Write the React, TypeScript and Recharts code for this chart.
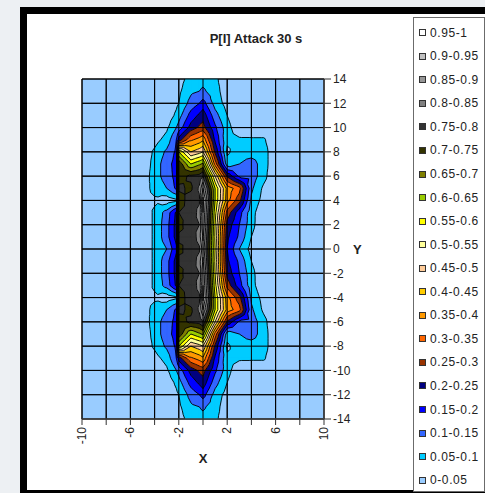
import * as Recharts from 'recharts'

const { ComposedChart, XAxis, YAxis, CartesianGrid, ReferenceLine, Customized } = Recharts
const RC: any = Recharts

// grid nodes of the surface (x columns, y rows from top to bottom)
const xNodes = [-6, -5, -4, -3, -2.2, -2, -1, -0.3, 0, 1, 2, 3, 4, 5, 6]
const yNodes = [14, 13, 12, 11, 10, 9, 8, 7, 6, 5, 4, 3, 2, 1, 0, -1, -2, -3, -4, -5, -6, -7, -8, -9, -10, -11, -12, -13, -14]

// P[I], one row per y node
const pRows = [
  [0, 0, 0, 0, 0.02, 0.03, 0.07, 0.08, 0.08, 0.06, 0.02, 0, 0, 0, 0],
  [0, 0, 0, 0, 0.03, 0.04, 0.09, 0.1, 0.11, 0.07, 0.02, 0, 0, 0, 0],
  [0, 0, 0, 0.01, 0.04, 0.05, 0.12, 0.15, 0.17, 0.08, 0.03, 0, 0, 0, 0],
  [0, 0, 0, 0.02, 0.06, 0.08, 0.17, 0.21, 0.23, 0.12, 0.05, 0, 0, 0, 0],
  [0, 0, 0, 0.04, 0.1, 0.12, 0.22, 0.26, 0.27, 0.16, 0.07, 0.01, 0, 0, 0],
  [0, 0, 0.03, 0.07, 0.15, 0.22, 0.34, 0.37, 0.39, 0.19, 0.06, 0.06, 0.06, 0.06, 0],
  [0, 0.01, 0.06, 0.11, 0.16, 0.6, 0.45, 0.48, 0.5, 0.24, 0.04, 0.08, 0.08, 0.08, 0],
  [0, 0.01, 0.07, 0.13, 0.17, 0.74, 0.6, 0.64, 0.66, 0.33, 0.07, 0.1, 0.12, 0.08, 0],
  [0, 0.01, 0.08, 0.12, 0.17, 0.73, 0.76, 0.77, 0.8, 0.5, 0.24, 0.14, 0.13, 0.07, 0],
  [0, 0.02, 0.07, 0.1, 0.16, 0.76, 0.74, 0.81, 0.9, 0.6, 0.38, 0.32, 0.11, 0.04, 0],
  [0, 0.03, 0.04, 0.02, 0.04, 0.72, 0.78, 0.79, 0.97, 0.6, 0.37, 0.27, 0.09, 0.03, 0],
  [0, 0.01, 0.06, 0.12, 0.21, 0.75, 0.76, 0.82, 0.95, 0.57, 0.28, 0.17, 0.07, 0.01, 0],
  [0, 0.01, 0.06, 0.13, 0.22, 0.73, 0.79, 0.8, 0.94, 0.55, 0.23, 0.15, 0.07, 0, 0],
  [0, 0.01, 0.06, 0.13, 0.22, 0.76, 0.75, 0.83, 0.91, 0.54, 0.21, 0.14, 0.05, 0, 0],
  [0, 0.01, 0.06, 0.1, 0.19, 0.74, 0.77, 0.79, 0.88, 0.55, 0.2, 0.1, 0.03, 0, 0],
  [0, 0.01, 0.06, 0.13, 0.22, 0.76, 0.75, 0.83, 0.91, 0.54, 0.21, 0.14, 0.05, 0, 0],
  [0, 0.01, 0.06, 0.13, 0.22, 0.73, 0.79, 0.8, 0.94, 0.55, 0.23, 0.15, 0.07, 0, 0],
  [0, 0.01, 0.06, 0.12, 0.21, 0.75, 0.76, 0.82, 0.95, 0.57, 0.28, 0.17, 0.07, 0.01, 0],
  [0, 0.03, 0.04, 0.02, 0.04, 0.72, 0.78, 0.79, 0.97, 0.6, 0.37, 0.27, 0.09, 0.03, 0],
  [0, 0.02, 0.07, 0.1, 0.16, 0.76, 0.74, 0.81, 0.9, 0.6, 0.38, 0.32, 0.11, 0.04, 0],
  [0, 0.01, 0.08, 0.12, 0.17, 0.73, 0.76, 0.77, 0.8, 0.5, 0.24, 0.14, 0.13, 0.07, 0],
  [0, 0.01, 0.07, 0.13, 0.17, 0.74, 0.6, 0.64, 0.66, 0.33, 0.07, 0.1, 0.12, 0.08, 0],
  [0, 0.01, 0.06, 0.11, 0.16, 0.6, 0.45, 0.48, 0.5, 0.24, 0.04, 0.08, 0.08, 0.08, 0],
  [0, 0, 0.03, 0.07, 0.15, 0.22, 0.34, 0.37, 0.39, 0.19, 0.06, 0.06, 0.06, 0.06, 0],
  [0, 0, 0, 0.04, 0.1, 0.12, 0.22, 0.26, 0.27, 0.16, 0.07, 0.01, 0, 0, 0],
  [0, 0, 0, 0.02, 0.06, 0.08, 0.17, 0.21, 0.23, 0.12, 0.05, 0, 0, 0, 0],
  [0, 0, 0, 0.01, 0.04, 0.05, 0.12, 0.15, 0.17, 0.08, 0.03, 0, 0, 0, 0],
  [0, 0, 0, 0, 0.03, 0.04, 0.09, 0.1, 0.11, 0.07, 0.02, 0, 0, 0, 0],
  [0, 0, 0, 0, 0.02, 0.03, 0.07, 0.08, 0.08, 0.06, 0.02, 0, 0, 0, 0],
]

// band edges, low to high
const bandLevels = [0, 0.05, 0.1, 0.15, 0.2, 0.25, 0.3, 0.35, 0.4, 0.45, 0.5, 0.55, 0.6, 0.65, 0.7, 0.75, 0.8, 0.85, 0.9, 0.95, 1]
const bandColors = [
  '#99CCFF', '#00CCFF', '#3366FF', '#0000FF', '#000080',
  '#993300', '#FF6600', '#FF9900', '#FFCC00', '#FFCC99',
  '#FFFF99', '#FFFF00', '#99CC00', '#808000', '#333300',
  '#333333', '#808080', '#969696', '#C0C0C0', '#FFFFFF',
]
const bandLabels = [
  '0-0.05', '0.05-0.1', '0.1-0.15', '0.15-0.2', '0.2-0.25',
  '0.25-0.3', '0.3-0.35', '0.35-0.4', '0.4-0.45', '0.45-0.5',
  '0.5-0.55', '0.55-0.6', '0.6-0.65', '0.65-0.7', '0.7-0.75',
  '0.75-0.8', '0.8-0.85', '0.85-0.9', '0.9-0.95', '0.95-1',
]

const xTicks = [-10, -8, -6, -4, -2, 0, 2, 4, 6, 8, 10]
const xLabelled = [-10, -6, -2, 2, 6, 10]
const yTicks = [-14, -12, -10, -8, -6, -4, -2, 0, 2, 4, 6, 8, 10, 12, 14]

const X_DOMAIN: [number, number] = [-10, 10]
const Y_DOMAIN: [number, number] = [-14, 14]
const FONT = '"Liberation Sans", Arial, sans-serif'

type Pt = [number, number, number]

function clipPoly(poly: Pt[], level: number, above: boolean): Pt[] {
  const out: Pt[] = []
  for (let i = 0; i < poly.length; i++) {
    const a = poly[i]
    const b = poly[(i + 1) % poly.length]
    const inA = above ? a[2] >= level : a[2] <= level
    const inB = above ? b[2] >= level : b[2] <= level
    if (inA) out.push(a)
    if (inA !== inB) {
      const t = (level - a[2]) / (b[2] - a[2])
      out.push([a[0] + t * (b[0] - a[0]), a[1] + t * (b[1] - a[1]), level])
    }
  }
  return out
}

// triangulate every cell around its centre and cut the pieces into bands
function buildContours() {
  const bands: Pt[][][] = bandColors.map(() => [])
  const lines: [Pt, Pt][] = []
  for (let j = 0; j < yNodes.length - 1; j++) {
    for (let i = 0; i < xNodes.length - 1; i++) {
      const a: Pt = [xNodes[i], yNodes[j], pRows[j][i]]
      const b: Pt = [xNodes[i + 1], yNodes[j], pRows[j][i + 1]]
      const c: Pt = [xNodes[i + 1], yNodes[j + 1], pRows[j + 1][i + 1]]
      const d: Pt = [xNodes[i], yNodes[j + 1], pRows[j + 1][i]]
      const m: Pt = [(a[0] + b[0]) / 2, (a[1] + d[1]) / 2, (a[2] + b[2] + c[2] + d[2]) / 4]
      const tris: Pt[][] = [[a, b, m], [b, c, m], [c, d, m], [d, a, m]]
      for (const tri of tris) {
        const zs = tri.map((p) => p[2])
        const lo = Math.min(...zs)
        const hi = Math.max(...zs)
        if (hi < bandLevels[1]) continue
        for (let k = 1; k < bandColors.length; k++) {
          const l0 = bandLevels[k]
          const l1 = bandLevels[k + 1]
          if (hi < l0 || lo > l1) continue
          const poly = clipPoly(clipPoly(tri, l0, true), l1, false)
          if (poly.length >= 3) bands[k].push(poly)
        }
        for (let k = 1; k < bandLevels.length - 1; k++) {
          const L = bandLevels[k]
          const cut: Pt[] = []
          for (let e = 0; e < 3; e++) {
            const p = tri[e]
            const q = tri[(e + 1) % 3]
            if ((p[2] >= L) !== (q[2] >= L)) {
              const t = (L - p[2]) / (q[2] - p[2])
              cut.push([p[0] + t * (q[0] - p[0]), p[1] + t * (q[1] - p[1]), L])
            }
          }
          if (cut.length === 2) lines.push([cut[0], cut[1]])
        }
      }
    }
  }
  return { bands, lines }
}

const contours = buildContours()

function usePixelScales() {
  const plot = RC.usePlotArea ? RC.usePlotArea() : undefined
  if (!plot) return null
  const sx = (x: number) => plot.x + ((x - X_DOMAIN[0]) / (X_DOMAIN[1] - X_DOMAIN[0])) * plot.width
  const sy = (y: number) => plot.y + ((Y_DOMAIN[1] - y) / (Y_DOMAIN[1] - Y_DOMAIN[0])) * plot.height
  return { sx, sy }
}

function ContourLayer() {
  const scales = usePixelScales()
  if (!scales) return null
  const { sx, sy } = scales
  const f = (v: number) => v.toFixed(2)
  return (
    <g className="contour-bands">
      {contours.bands.map((polys, k) => {
        if (polys.length === 0) return null
        const d = polys
          .map((poly) => 'M' + poly.map((p) => f(sx(p[0])) + ',' + f(sy(p[1]))).join('L') + 'Z')
          .join('')
        return <path key={k} d={d} fill={bandColors[k]} stroke={bandColors[k]} strokeWidth={0.4} />
      })}
      <path
        d={contours.lines
          .map(([p, q]) => `M${f(sx(p[0]))},${f(sy(p[1]))}L${f(sx(q[0]))},${f(sy(q[1]))}`)
          .join('')}
        fill="none"
        stroke="#000"
        strokeWidth={0.9}
      />
    </g>
  )
}

function XTick(props: any) {
  const { x, y, payload } = props
  if (!xLabelled.includes(payload.value)) return null
  return (
    <text
      x={x}
      y={y}
      transform={`rotate(-90 ${x} ${y})`}
      textAnchor="end"
      dominantBaseline="central"
      fontSize={12}
      fill="#222"
    >
      {payload.value}
    </text>
  )
}

function LegendBox() {
  const items = bandLabels.map((label, i) => ({ label, color: bandColors[i] })).reverse()
  return (
    <div
      style={{
        position: 'absolute',
        left: 413,
        top: 17,
        width: 70,
        height: 473,
        border: '1px solid #6b6b6b',
        background: '#fff',
      }}
    >
      {items.map((it, i) => (
        <div
          key={it.label}
          style={{
            position: 'absolute',
            left: 5,
            top: 7.7 + i * 23.55,
            height: 14,
            display: 'flex',
            alignItems: 'center',
            fontSize: 12,
            letterSpacing: 0.6,
            color: '#222',
            whiteSpace: 'nowrap',
          }}
        >
          <span
            style={{
              display: 'inline-block',
              width: 5,
              height: 5,
              border: '1px solid #333',
              background: it.color,
              marginRight: 4,
            }}
          />
          {it.label}
        </div>
      ))}
    </div>
  )
}

export default function App() {
  return (
    <div
      style={{
        position: 'absolute',
        left: 0,
        top: 0,
        width: 485,
        height: 493,
        overflow: 'hidden',
        background: '#edf0f3',
        fontFamily: FONT,
      }}
    >
      <div
        style={{
          position: 'absolute',
          left: 20,
          top: 7,
          width: 459,
          height: 476,
          border: '7px solid #000',
          background: '#fff',
        }}
      />
      <div
        style={{
          position: 'absolute',
          left: 27,
          top: 31,
          width: 458,
          textAlign: 'center',
          fontSize: 13,
          fontWeight: 'bold',
          color: '#222',
        }}
      >
        P[I] Attack 30 s
      </div>
      <div style={{ position: 'absolute', left: 27, top: 14 }}>
        <ComposedChart width={386} height={476} margin={{ top: 65, right: 44, bottom: 21, left: 55 }}>
          <CartesianGrid fill="#99CCFF" stroke="#000" />
          <XAxis
            type="number"
            dataKey="x"
            domain={X_DOMAIN}
            ticks={xTicks}
            interval={0}
            allowDataOverflow
            height={50}
            tickSize={6}
            tickMargin={2}
            tick={<XTick />}
            axisLine={{ stroke: '#555' }}
            tickLine={{ stroke: '#333' }}
            label={{ value: 'X', position: 'insideBottom', offset: 6, fontSize: 13, fontWeight: 'bold', fill: '#222' }}
          />
          <YAxis
            type="number"
            dataKey="y"
            orientation="right"
            domain={Y_DOMAIN}
            ticks={yTicks}
            interval={0}
            allowDataOverflow
            width={45}
            tickSize={7}
            tickMargin={2}
            tick={{ fontSize: 12, fill: '#222' }}
            axisLine={{ stroke: '#555' }}
            tickLine={{ stroke: '#333' }}
            label={{ value: 'Y', position: 'insideLeft', offset: 29, fontSize: 13, fontWeight: 'bold', fill: '#222' }}
          />
          <Customized component={ContourLayer} />
          {xTicks.map((x) => (
            <ReferenceLine key={'vx' + x} x={x} stroke="#000" strokeWidth={1} />
          ))}
          {yTicks.map((y) => (
            <ReferenceLine key={'hy' + y} y={y} stroke="#000" strokeWidth={1} />
          ))}
        </ComposedChart>
      </div>
      <LegendBox />
    </div>
  )
}
